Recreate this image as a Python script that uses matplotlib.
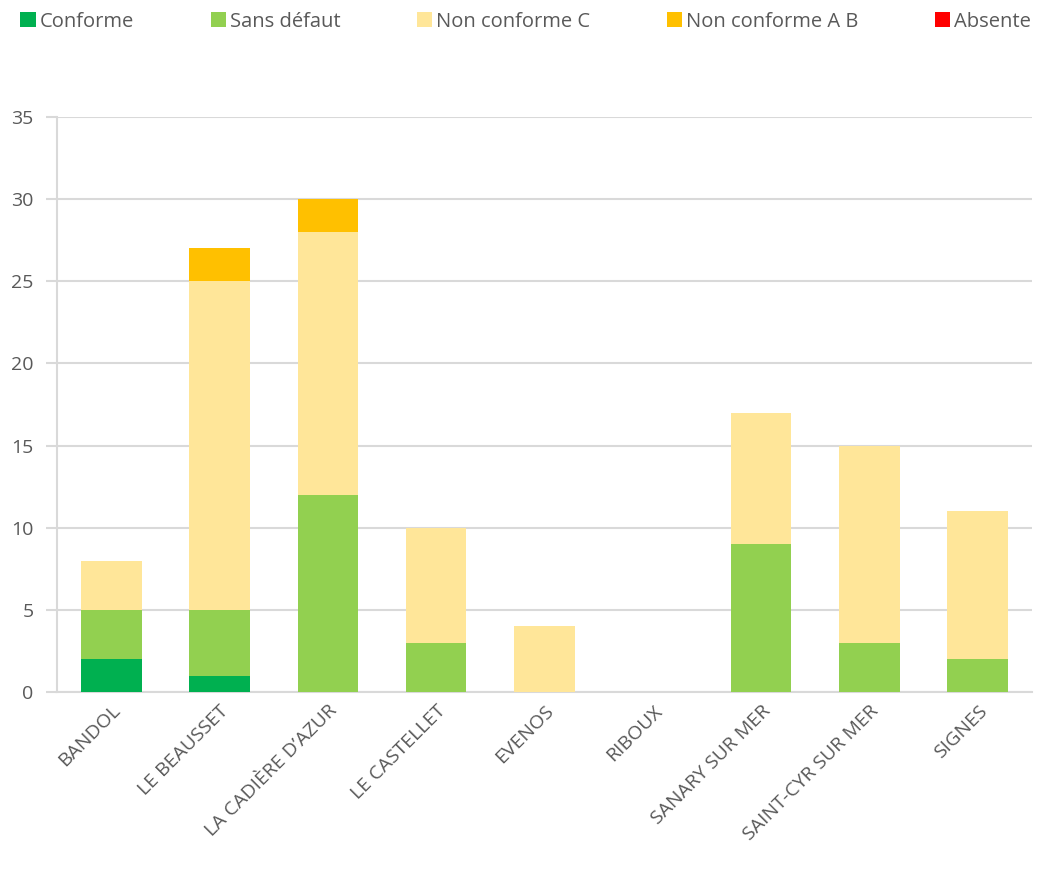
import matplotlib
matplotlib.use("Agg")
import matplotlib.pyplot as plt
import numpy as np

communes = ["BANDOL", "LE BEAUSSET", "LA CADIÈRE D’AZUR", "LE CASTELLET", "EVENOS",
            "RIBOUX", "SANARY SUR MER", "SAINT-CYR SUR MER", "SIGNES"]
conforme = [2, 1, 0, 0, 0, 0, 0, 0, 0]
sans_defaut = [3, 4, 12, 3, 0, 0, 9, 3, 2]
non_conforme_c = [3, 20, 16, 7, 4, 0, 8, 12, 9]
non_conforme_ab = [0, 2, 2, 0, 0, 0, 0, 0, 0]
absente = [0, 0, 0, 0, 0, 0, 0, 0, 0]

series = [
    ("Conforme", conforme, "#00B050"),
    ("Sans défaut", sans_defaut, "#92D050"),
    ("Non conforme C", non_conforme_c, "#FFE699"),
    ("Non conforme A B", non_conforme_ab, "#FFC000"),
    ("Absente", absente, "#FF0000"),
]

plt.rcParams['font.family'] = ['Open Sans', 'DejaVu Sans']
txt = "#595959"
grid = "#D9D9D9"

fig = plt.figure(figsize=(10.37, 8.81), dpi=100)
ax = fig.add_axes([57/1037, 1-692/881, (1032-57)/1037, (692-117)/881])

x = np.arange(len(communes))
bottom = np.zeros(len(communes))
handles = []
for name, vals, col in series:
    v = np.array(vals, dtype=float)
    b = ax.bar(x, v, bottom=bottom, width=0.56, color=col, label=name, zorder=3)
    handles.append(b)
    bottom += v

ax.set_xlim(-0.5, len(communes) - 0.5)
ax.set_ylim(0, 35)
ax.set_yticks(np.arange(0, 36, 5))
ax.yaxis.grid(True, color=grid, linewidth=1.5, zorder=0)
ax.set_axisbelow(True)
for s in ["top", "right"]:
    ax.spines[s].set_visible(False)
for s in ["left", "bottom"]:
    ax.spines[s].set_color(grid)
    ax.spines[s].set_linewidth(1.5)
ax.tick_params(axis='y', length=8, width=1.5, color=grid, labelsize=14, labelcolor=txt, pad=9)
ax.tick_params(axis='x', length=0, pad=7)
ax.set_xticks(x)
ax.set_xticklabels(communes, rotation=45, ha='right', va='top', rotation_mode='anchor',
                   fontsize=14, color=txt)

fig.legend(handles=handles, labels=[s[0] for s in series], loc='lower left',
           bbox_to_anchor=(0.012, 0.955, 0.99, 0.04), mode='expand', ncol=5,
           frameon=False, fontsize=14.5, labelcolor=txt, handlelength=0.75, handleheight=0.75,
           handletextpad=0.2, borderaxespad=0)

fig.savefig("out.png", dpi=100)
